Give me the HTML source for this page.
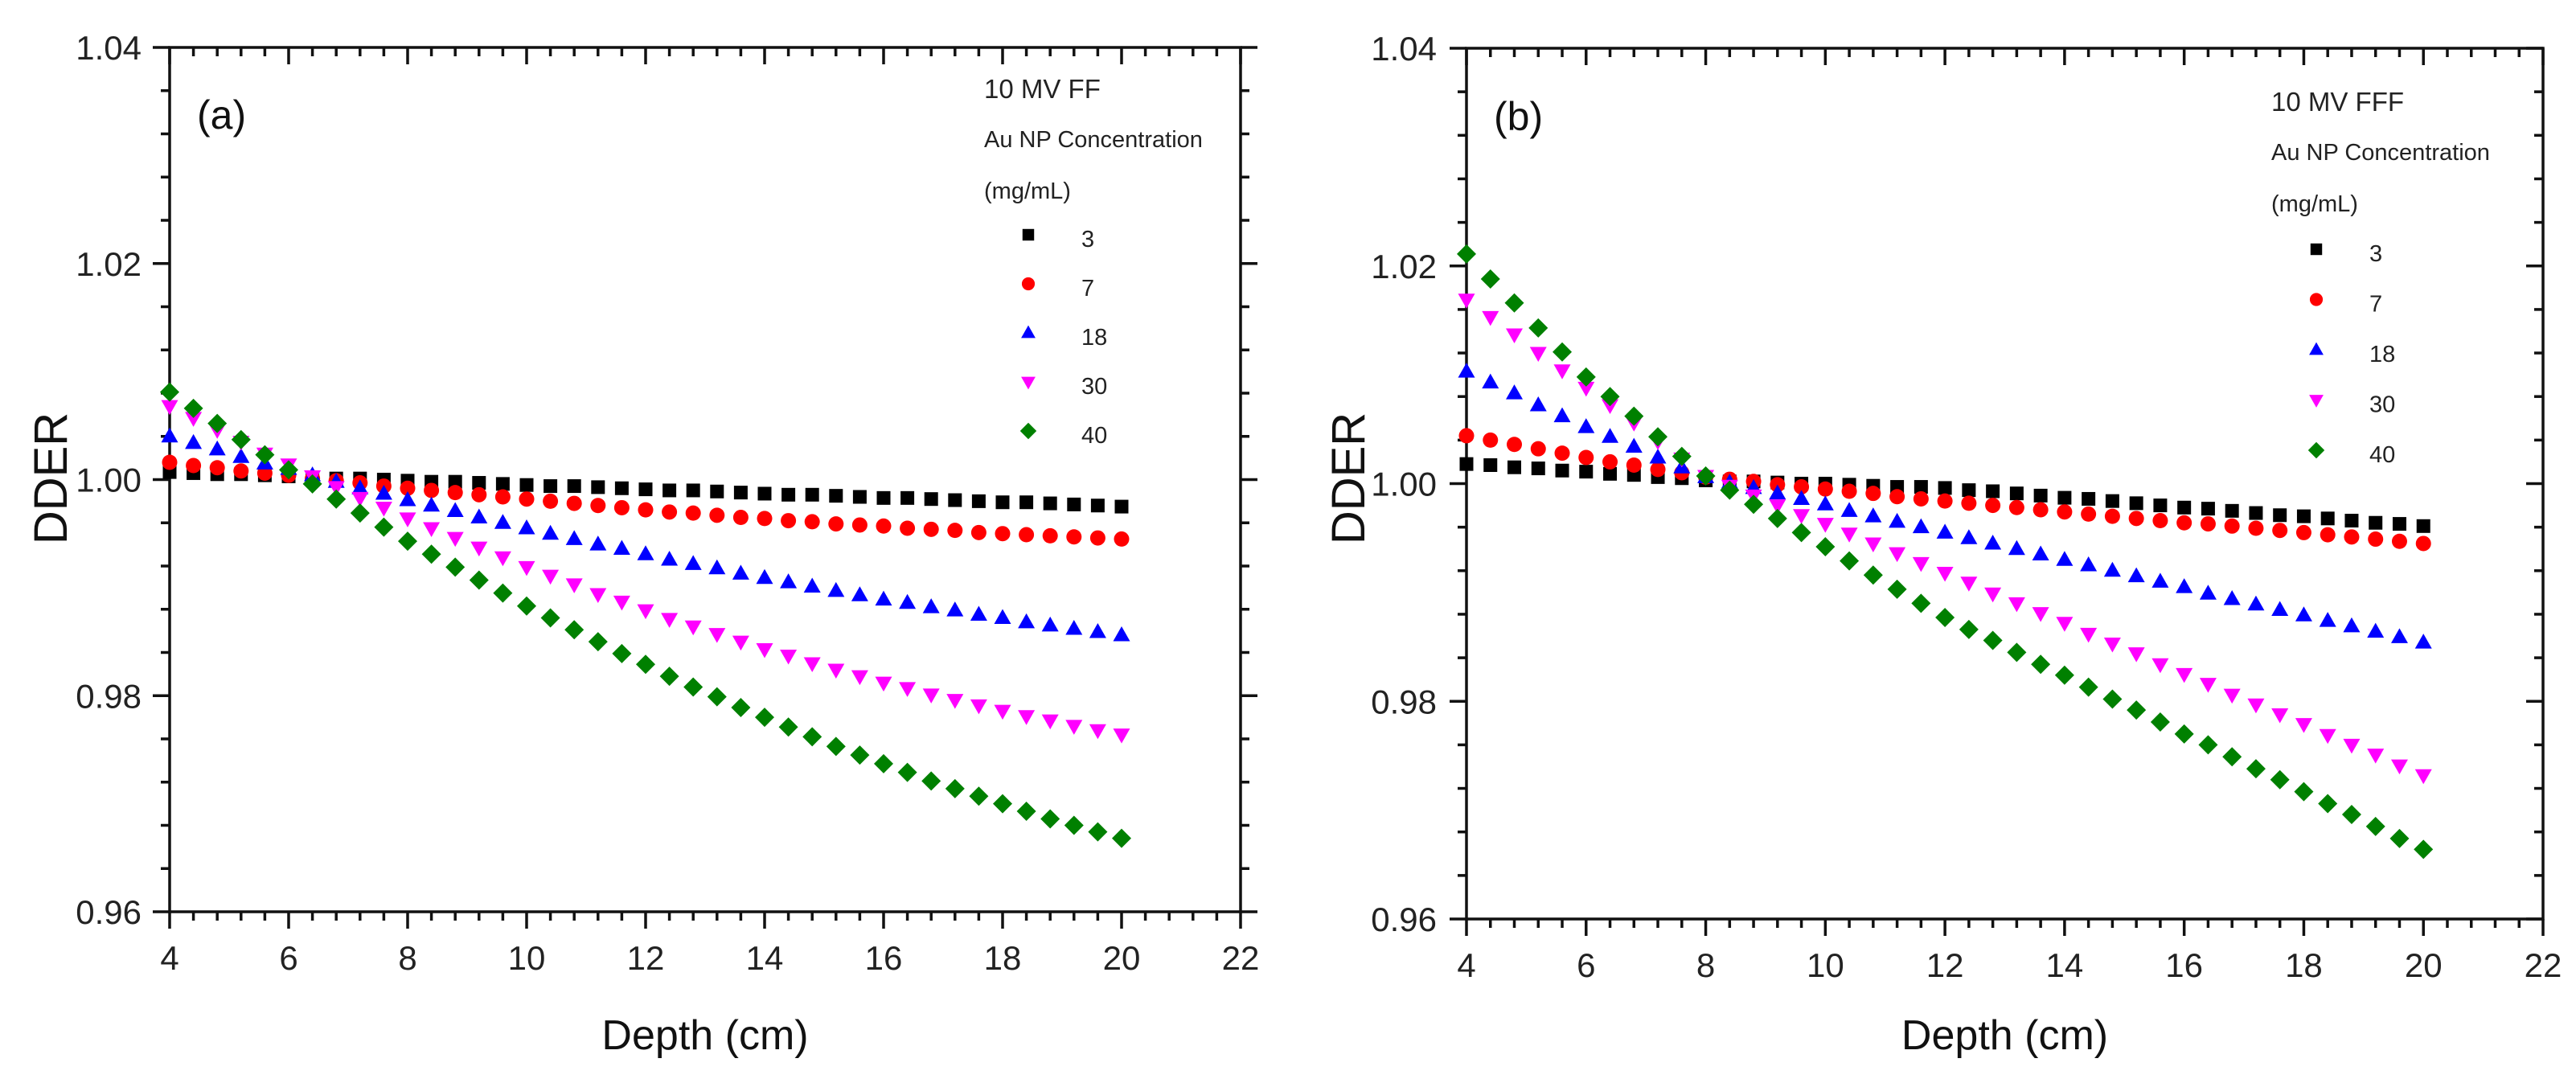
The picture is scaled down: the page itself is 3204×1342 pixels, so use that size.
<!DOCTYPE html>
<html><head><meta charset="utf-8"><title>DDER vs Depth</title>
<style>
html,body{margin:0;padding:0;background:#fff;}
svg{display:block;font-family:"Liberation Sans",Arial,sans-serif;}
</style></head>
<body>
<svg id="fig" xmlns="http://www.w3.org/2000/svg" width="3204" height="1342" viewBox="0 0 3204 1342">
<rect x="0" y="0" width="3204" height="1342" fill="#fff"/>
</svg>
<script>
// ---- data ----
const depth = [4,4.4,4.8,5.2,5.6,6,6.4,6.8,7.2,7.6,8,8.4,8.8,9.2,9.6,10,10.4,10.8,11.2,11.6,12,12.4,12.8,13.2,13.6,14,14.4,14.8,15.2,15.6,16,16.4,16.8,17.2,17.6,18,18.4,18.8,19.2,19.6,20];
const concLabels = ['3','7','18','30','40'];
const xTicks = [4,6,8,10,12,14,16,18,20,22];
const yTicks = [0.96,0.98,1.00,1.02,1.04];
const yTickLabels = ['0.96','0.98','1.00','1.02','1.04'];

const ffS3 = [1.0007,1.0006,1.0005,1.0005,1.0004,1.0003,1.0002,1.0001,1.0001,1.0000,0.9999,0.9998,0.9998,0.9997,0.9996,0.9995,0.9994,0.9994,0.9993,0.9992,0.9991,0.9990,0.9990,0.9989,0.9988,0.9987,0.9986,0.9986,0.9985,0.9984,0.9983,0.9983,0.9982,0.9981,0.9980,0.9979,0.9979,0.9978,0.9977,0.9976,0.9975];
const ffS7 = [1.0016,1.0013,1.0011,1.0008,1.0006,1.0004,1.0001,0.9999,0.9997,0.9994,0.9992,0.9990,0.9988,0.9986,0.9984,0.9982,0.9980,0.9978,0.9976,0.9974,0.9972,0.9970,0.9969,0.9967,0.9965,0.9964,0.9962,0.9961,0.9959,0.9958,0.9957,0.9955,0.9954,0.9953,0.9951,0.9950,0.9949,0.9948,0.9947,0.9946,0.9945];
const ffS18 = [1.0040,1.0034,1.0028,1.0021,1.0015,1.0010,1.0004,0.9998,0.9992,0.9987,0.9981,0.9976,0.9971,0.9965,0.9960,0.9955,0.9950,0.9945,0.9940,0.9936,0.9931,0.9926,0.9922,0.9918,0.9913,0.9909,0.9905,0.9901,0.9897,0.9893,0.9889,0.9886,0.9882,0.9879,0.9875,0.9872,0.9868,0.9865,0.9862,0.9859,0.9856];
const ffS30 = [1.0068,1.0057,1.0046,1.0035,1.0024,1.0014,1.0003,0.9993,0.9983,0.9974,0.9964,0.9955,0.9946,0.9937,0.9928,0.9919,0.9911,0.9903,0.9894,0.9887,0.9879,0.9871,0.9864,0.9857,0.9850,0.9843,0.9837,0.9830,0.9824,0.9818,0.9812,0.9807,0.9801,0.9796,0.9791,0.9786,0.9781,0.9777,0.9772,0.9768,0.9764];
const ffS40 = [1.0081,1.0066,1.0052,1.0037,1.0023,1.0009,0.9996,0.9982,0.9969,0.9956,0.9943,0.9931,0.9919,0.9907,0.9895,0.9883,0.9872,0.9861,0.9850,0.9839,0.9829,0.9818,0.9808,0.9799,0.9789,0.9780,0.9771,0.9762,0.9753,0.9745,0.9737,0.9729,0.9721,0.9714,0.9707,0.9700,0.9693,0.9686,0.9680,0.9674,0.9668];

const fffS3 = [1.0018,1.0017,1.0015,1.0014,1.0012,1.0011,1.0009,1.0008,1.0006,1.0005,1.0003,1.0002,1.0002,1.0001,1.0000,1.0000,0.9999,0.9998,0.9997,0.9997,0.9996,0.9994,0.9993,0.9991,0.9989,0.9987,0.9986,0.9984,0.9982,0.9980,0.9978,0.9977,0.9975,0.9973,0.9971,0.9970,0.9968,0.9966,0.9964,0.9963,0.9961];
const fffS7 = [1.0044,1.0040,1.0036,1.0032,1.0028,1.0024,1.0020,1.0017,1.0013,1.0010,1.0006,1.0004,1.0002,0.9999,0.9997,0.9995,0.9993,0.9991,0.9988,0.9986,0.9984,0.9982,0.9980,0.9978,0.9976,0.9974,0.9972,0.9970,0.9968,0.9966,0.9964,0.9963,0.9961,0.9959,0.9957,0.9955,0.9953,0.9951,0.9949,0.9947,0.9945];
const fffS18 = [1.0103,1.0093,1.0083,1.0072,1.0062,1.0052,1.0043,1.0034,1.0024,1.0015,1.0006,1.0001,0.9996,0.9991,0.9986,0.9981,0.9975,0.9970,0.9965,0.9960,0.9955,0.9950,0.9945,0.9940,0.9935,0.9930,0.9925,0.9920,0.9915,0.9910,0.9905,0.9899,0.9894,0.9889,0.9884,0.9879,0.9874,0.9869,0.9864,0.9859,0.9854];
const fffS30 = [1.0169,1.0153,1.0137,1.0120,1.0104,1.0088,1.0072,1.0056,1.0039,1.0023,1.0007,0.9998,0.9989,0.9980,0.9971,0.9963,0.9954,0.9945,0.9936,0.9927,0.9918,0.9909,0.9899,0.9890,0.9881,0.9872,0.9862,0.9853,0.9844,0.9834,0.9825,0.9816,0.9806,0.9797,0.9788,0.9779,0.9769,0.9760,0.9751,0.9741,0.9732];
const fffS40 = [1.0211,1.0188,1.0166,1.0143,1.0121,1.0098,1.0080,1.0062,1.0043,1.0025,1.0007,0.9994,0.9981,0.9968,0.9955,0.9942,0.9929,0.9916,0.9903,0.9890,0.9877,0.9866,0.9856,0.9845,0.9834,0.9824,0.9813,0.9802,0.9792,0.9781,0.9770,0.9760,0.9749,0.9738,0.9728,0.9717,0.9706,0.9696,0.9685,0.9674,0.9664];

// ---- rendering ----
const NS = 'http://www.w3.org/2000/svg';
const svg = document.getElementById('fig');
const colors = ['#000000','#ff0000','#0000ff','#ff00ff','#008000'];
const shapes = ['square','circle','up','down','diamond'];
const markerNames = ['marker-3','marker-7','marker-18','marker-30','marker-40'];

function mk(tag, attrs, parent){
  const e = document.createElementNS(NS, tag);
  for (const k in attrs) e.setAttribute(k, attrs[k]);
  (parent || svg).appendChild(e);
  return e;
}
function marker(shape, cx, cy, color, parent, s){
  s = s || 1;
  let e;
  if (shape === 'square') e = mk('rect',{x:cx-8.5*s,y:cy-8.5*s,width:17*s,height:17*s,fill:color},parent);
  else if (shape === 'circle') e = mk('circle',{cx:cx,cy:cy,r:9.5*s,fill:color},parent);
  else if (shape === 'up') e = mk('polygon',{points:`${cx},${cy-11*s} ${cx+10.5*s},${cy+7.5*s} ${cx-10.5*s},${cy+7.5*s}`,fill:color},parent);
  else if (shape === 'down') e = mk('polygon',{points:`${cx},${cy+11*s} ${cx+10.5*s},${cy-7.5*s} ${cx-10.5*s},${cy-7.5*s}`,fill:color},parent);
  else e = mk('polygon',{points:`${cx},${cy-12*s} ${cx+12*s},${cy} ${cx},${cy+12*s} ${cx-12*s},${cy}`,fill:color},parent);
  return e;
}

const panels = [
  {id:'a', x0:211, x1:1543, y0:59, y1:1134, rightInward:false, series:[ffS3,ffS7,ffS18,ffS30,ffS40],
   tag:'(a)', tagX:245, tagY:160, title:'10 MV FF', legX:1224, legY:122, legDy:61, mkX:1279, mkY0:292, lblX:1345,
   yLblX:176, ylabX:62},
  {id:'b', x0:1824, x1:3163, y0:60, y1:1143, rightInward:true, series:[fffS3,fffS7,fffS18,fffS30,fffS40],
   tag:'(b)', tagX:1858, tagY:162, title:'10 MV FFF', legX:2825, legY:138, legDy:62.5, mkX:2881, mkY0:310, lblX:2947,
   yLblX:1787, ylabX:1676}
];

panels.forEach(p => {
  const g = mk('g',{});
  
  
  const xs = v => p.x0 + (v - 4) / 18 * (p.x1 - p.x0);
  const ys = v => p.y1 - (v - 0.96) / 0.08 * (p.y1 - p.y0);

  const fr = mk('rect',{x:p.x0,y:p.y0,width:p.x1-p.x0,height:p.y1-p.y0,fill:'none',stroke:'#111','stroke-width':3.5},g);
  
  

  for (let v = 4; v <= 22.0001; v += 0.4) {
    const major = Math.abs((v - 4) / 2 - Math.round((v - 4) / 2)) < 1e-6;
    const L = major ? 21 : 11;
    const x = xs(v);
    mk('line',{x1:x,y1:p.y1,x2:x,y2:p.y1+L,stroke:'#111','stroke-width':3.5},g);
    mk('line',{x1:x,y1:p.y0,x2:x,y2:p.y0+L,stroke:'#111','stroke-width':3.5},g);
  }
  for (let i = 0; i <= 20; i++) {
    const v = 0.96 + i * 0.004;
    const major = i % 5 === 0;
    const L = major ? 21 : 11;
    const y = ys(v);
    mk('line',{x1:p.x0-L,y1:y,x2:p.x0,y2:y,stroke:'#111','stroke-width':3.5},g);
    if (p.rightInward) mk('line',{x1:p.x1-L,y1:y,x2:p.x1,y2:y,stroke:'#111','stroke-width':3.5},g);
    else mk('line',{x1:p.x1,y1:y,x2:p.x1+L,y2:y,stroke:'#111','stroke-width':3.5},g);
  }
  xTicks.forEach(v => {
    const t = mk('text',{x:xs(v),y:p.y1+72,'font-size':42,'text-anchor':'middle',fill:'#222'},g);
    t.textContent = String(v);
    
    
  });
  yTicks.forEach((v,i) => {
    const t = mk('text',{x:p.yLblX,y:ys(v)+15,'font-size':42,'text-anchor':'end',fill:'#222'},g);
    t.textContent = yTickLabels[i];
    
    
  });
  const xt = mk('text',{x:(p.x0+p.x1)/2,y:1305,'font-size':52,'text-anchor':'middle',fill:'#111'},g);
  xt.textContent = 'Depth (cm)';
  
  
  const yt = mk('text',{x:0,y:0,'font-size':58,'text-anchor':'middle',fill:'#111',transform:`translate(${p.ylabX+21},595) rotate(-90)`},g);
  yt.textContent = 'DDER';
  
  
  const tg = mk('text',{x:p.tagX,y:p.tagY,'font-size':50,fill:'#111'},g);
  tg.textContent = p.tag;
  
  

  p.series.forEach((arr, si) => {
    const sg = mk('g',{},g);
    
    
    arr.forEach((v, i) => {
      const m = marker(shapes[si], xs(depth[i]), ys(v), colors[si], sg, 1);
      
      
    });
  });

  const lg = mk('g',{},g);
  
  
  const t1 = mk('text',{x:p.legX,y:p.legY,'font-size':33,fill:'#222'},lg);
  t1.textContent = p.title;
  
  
  const t2 = mk('text',{x:p.legX,y:p.legY+61,'font-size':29,fill:'#222'},lg);
  t2.textContent = 'Au NP Concentration';
  
  
  const t3 = mk('text',{x:p.legX,y:p.legY+125,'font-size':29,fill:'#222'},lg);
  t3.textContent = '(mg/mL)';
  
  
  concLabels.forEach((c, si) => {
    const y = p.mkY0 + si * p.legDy;
    const m = marker(shapes[si], p.mkX, y, colors[si], lg, 0.85);
    
    
    const t = mk('text',{x:p.lblX,y:y+15,'font-size':29,fill:'#222'},lg);
    t.textContent = c;
    
    
  });
});
</script>
</body></html>
